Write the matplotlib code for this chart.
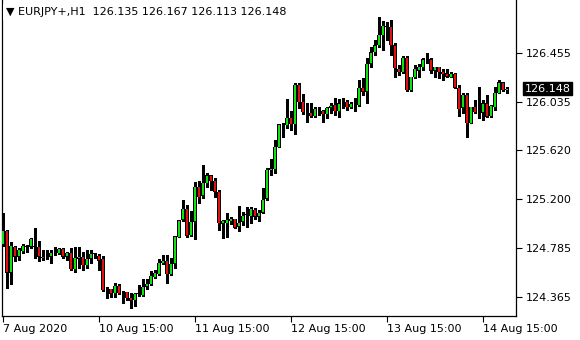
import matplotlib
matplotlib.use("Agg")
import matplotlib.pyplot as plt
import numpy as np

symbol_label = "EURJPY+,H1"
last_ohlc = [126.135, 126.167, 126.113, 126.148]

opens = [124.818, 124.930, 124.570, 124.793, 124.707, 124.758, 124.793, 124.793, 124.801, 124.793,
         124.707, 124.698, 124.707, 124.741, 124.741, 124.775, 124.707, 124.741, 124.604, 124.690,
         124.707, 124.638, 124.690, 124.733, 124.715, 124.690, 124.433, 124.433, 124.398, 124.458,
         124.407, 124.407, 124.355, 124.338, 124.390, 124.381, 124.450, 124.475, 124.535, 124.561,
         124.655, 124.673, 124.561, 124.647, 124.878, 125.024, 125.118, 124.895, 125.007, 125.307,
         125.230, 125.341, 125.409, 125.358, 125.264, 124.990, 124.998, 125.015, 125.032, 124.964,
         125.007, 125.067, 125.058, 125.110, 125.050, 125.084, 125.204, 125.452, 125.461, 125.649,
         125.846, 125.838, 125.898, 125.846, 126.181, 126.035, 125.949, 125.941, 125.915, 125.975,
         125.958, 125.932, 125.984, 126.009, 125.958, 126.026, 126.035, 125.992, 126.009, 126.009,
         126.155, 126.121, 126.361, 126.463, 126.523, 126.609, 126.686, 126.678, 126.523, 126.318,
         126.292, 126.412, 126.138, 126.249, 126.301, 126.335, 126.403, 126.403, 126.301, 126.335,
         126.292, 126.283, 126.249, 126.275, 126.155, 125.984, 126.095, 125.855, 125.992, 125.958,
         125.941, 126.026, 125.915, 125.992, 126.112, 126.206, 126.135]
highs = [125.084, 124.938, 124.835, 124.801, 124.784, 124.818, 124.810, 124.870, 124.955, 124.844,
         124.767, 124.767, 124.767, 124.793, 124.784, 124.784, 124.750, 124.784, 124.793, 124.793,
         124.750, 124.767, 124.767, 124.741, 124.733, 124.715, 124.450, 124.433, 124.484, 124.475,
         124.415, 124.407, 124.398, 124.398, 124.467, 124.518, 124.518, 124.587, 124.595, 124.690,
         124.724, 124.724, 124.698, 124.887, 125.024, 125.195, 125.152, 125.101, 125.349, 125.358,
         125.495, 125.427, 125.411, 125.384, 125.281, 125.024, 125.084, 125.050, 125.034, 125.144,
         125.092, 125.135, 125.135, 125.127, 125.110, 125.298, 125.469, 125.547, 125.709, 125.846,
         125.855, 126.061, 125.958, 126.198, 126.198, 126.104, 126.026, 126.026, 125.992, 125.992,
         125.966, 125.992, 126.026, 126.069, 126.061, 126.069, 126.052, 126.035, 126.069, 126.224,
         126.241, 126.412, 126.506, 126.566, 126.763, 126.729, 126.720, 126.738, 126.540, 126.352,
         126.429, 126.429, 126.249, 126.352, 126.361, 126.412, 126.455, 126.412, 126.335, 126.337,
         126.318, 126.318, 126.292, 126.283, 126.181, 126.112, 126.112, 125.992, 126.052, 126.164,
         126.052, 126.095, 126.009, 126.164, 126.224, 126.208, 126.167]
lows = [124.801, 124.441, 124.475, 124.673, 124.681, 124.741, 124.750, 124.784, 124.698, 124.673,
        124.681, 124.690, 124.655, 124.724, 124.733, 124.698, 124.681, 124.595, 124.578, 124.613,
        124.595, 124.613, 124.655, 124.698, 124.595, 124.415, 124.355, 124.364, 124.364, 124.390,
        124.313, 124.338, 124.270, 124.287, 124.373, 124.373, 124.433, 124.467, 124.527, 124.553,
        124.647, 124.484, 124.553, 124.613, 124.876, 125.015, 124.878, 124.887, 124.861, 125.170,
        125.212, 125.307, 125.281, 125.221, 124.938, 124.870, 124.878, 124.990, 124.955, 124.930,
        124.981, 124.964, 124.998, 125.032, 125.015, 125.082, 125.195, 125.409, 125.427, 125.647,
        125.735, 125.812, 125.795, 125.761, 125.984, 125.932, 125.864, 125.906, 125.906, 125.924,
        125.864, 125.898, 125.941, 125.924, 125.906, 125.984, 125.966, 125.984, 125.958, 126.001,
        126.095, 126.026, 126.335, 126.438, 126.506, 126.481, 126.566, 126.438, 126.249, 126.266,
        126.283, 126.129, 126.129, 126.241, 126.249, 126.309, 126.369, 126.283, 126.249, 126.241,
        126.224, 126.249, 126.247, 126.155, 125.915, 125.941, 125.735, 125.853, 125.941, 125.898,
        125.881, 125.906, 125.906, 125.966, 126.110, 126.129, 126.113]
closes = [124.930, 124.570, 124.801, 124.707, 124.767, 124.801, 124.801, 124.861, 124.793, 124.707,
          124.698, 124.702, 124.741, 124.744, 124.775, 124.707, 124.741, 124.604, 124.698, 124.707,
          124.638, 124.690, 124.733, 124.735, 124.673, 124.424, 124.431, 124.390, 124.458, 124.398,
          124.405, 124.355, 124.330, 124.390, 124.392, 124.450, 124.475, 124.544, 124.570, 124.655,
          124.673, 124.561, 124.647, 124.885, 125.022, 125.118, 124.887, 125.007, 125.307, 125.221,
          125.341, 125.409, 125.358, 125.264, 124.998, 125.015, 125.024, 125.032, 124.957, 124.998,
          125.058, 125.069, 125.118, 125.050, 125.084, 125.195, 125.452, 125.469, 125.649, 125.844,
          125.844, 125.898, 125.846, 126.181, 126.035, 125.949, 125.951, 125.915, 125.975, 125.977,
          125.932, 125.984, 126.001, 125.958, 126.026, 126.028, 125.992, 126.018, 126.011, 126.155,
          126.121, 126.361, 126.463, 126.523, 126.609, 126.686, 126.678, 126.523, 126.326, 126.292,
          126.412, 126.138, 126.249, 126.318, 126.335, 126.403, 126.405, 126.301, 126.335, 126.292,
          126.275, 126.251, 126.275, 126.157, 125.975, 126.095, 125.855, 125.992, 125.949, 125.960,
          126.026, 125.908, 126.001, 126.112, 126.206, 126.138, 126.148]

y_ticks = [124.365, 124.785, 125.200, 125.620, 126.035, 126.455]
x_tick_bars = [0, 24, 48, 72, 96, 120]
x_tick_labels = ["7 Aug 2020", "10 Aug 15:00", "11 Aug 15:00", "12 Aug 15:00",
                 "13 Aug 15:00", "14 Aug 15:00"]

W, H = 580, 340
fig = plt.figure(figsize=(W / 100, H / 100), dpi=100)
ax = fig.add_axes([2 / W, 24 / H, 514 / W, 316 / H])

o = np.array(opens); h = np.array(highs); l = np.array(lows); c = np.array(closes)
x = np.arange(len(o))
up = c >= o
bull = "#11e011"
bear = "#e01111"

ax.vlines(x, l, h, color="black", linewidth=0.75, zorder=2, antialiased=False)
bottom = np.minimum(o, c)
height = np.maximum(np.abs(c - o), 0.004)
colors = [bull if u else bear for u in up]
# black outline body
ax.bar(x, height, bottom=bottom, width=0.8, color="black", linewidth=0, zorder=3)
# coloured inner fill
inset = 0.004
inner_h = np.maximum(height - 2 * inset, 0)
ax.bar(x, inner_h, bottom=bottom + inset, width=0.42, color=colors, linewidth=0, zorder=4)

ax.set_xlim(-0.25, 128.25)
ax.set_ylim(124.201, 126.909)

ax.yaxis.tick_right()
ax.set_yticks(y_ticks)
ax.set_yticklabels([f"{v:.3f}" for v in y_ticks])
ax.set_xticks(x_tick_bars)
ax.set_xticklabels(x_tick_labels, ha="left")
ax.tick_params(axis="both", direction="out", length=4, width=0.8, colors="black",
               labelsize=8)
ax.tick_params(axis="y", pad=3)
ax.tick_params(axis="x", pad=2)

for side in ["left", "right", "bottom"]:
    ax.spines[side].set_color("black")
    ax.spines[side].set_linewidth(0.9)
ax.spines["top"].set_visible(False)

# current price label
ax.annotate(f"{last_ohlc[3]:.3f}", xy=(1.0, last_ohlc[3]),
            xycoords=("axes fraction", "data"),
            xytext=(6, 0), textcoords="offset points",
            va="center", ha="left", fontsize=8, color="white",
            bbox=dict(boxstyle="square,pad=0.15", fc="black", ec="black"),
            annotation_clip=False, zorder=10)

fig.text(6 / W, 1 - 12 / H,
         "\u25bc " + symbol_label + "  " + " ".join(f"{v:.3f}" for v in last_ohlc),
         fontsize=8, va="center", ha="left", color="black",
         bbox=dict(boxstyle="square,pad=0.3", fc="white", ec="none"), zorder=10)

fig.savefig("out.png", dpi=100, facecolor="white")
